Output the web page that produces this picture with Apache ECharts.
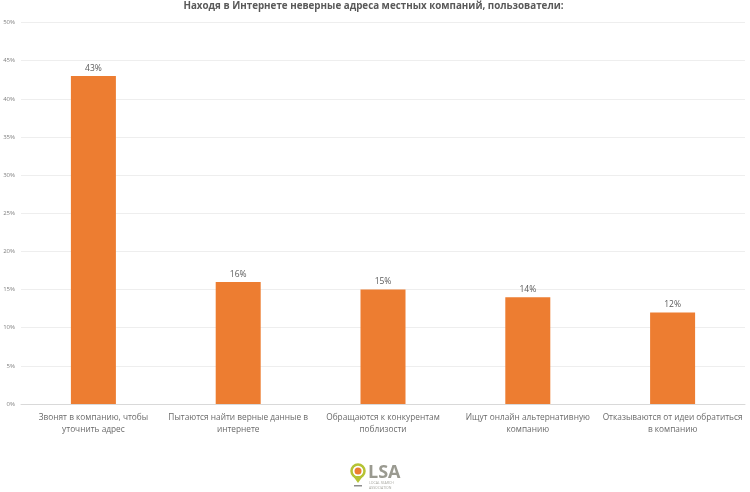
<!DOCTYPE html>
<html><head><meta charset="utf-8">
<style>html,body{margin:0;padding:0;background:#fff}#c{width:750px;height:492px}</style>
<script src="https://cdn.jsdelivr.net/npm/echarts@6/dist/echarts.min.js"></script>
</head><body><div id="c"></div>
<script>
const titleText = 'Находя в Интернете неверные адреса местных компаний, пользователи:';
const categories = ['Звонят в компанию, чтобы\nуточнить адрес','Пытаются найти верные данные в\nинтернете','Обращаются к конкурентам\nпоблизости','Ищут онлайн альтернативную\nкомпанию','Отказываются от идеи обратиться\nв компанию'];
const values = [43,16,15,14,12];
const font = '"Open Sans","Noto Sans",sans-serif';
const chart = echarts.init(document.getElementById('c'),null,{renderer:'canvas'});
chart.setOption({
  animation:false,
  backgroundColor:'#fff',
  title:{text:titleText,left:373.5,textAlign:'center',top:1,padding:0,textStyle:{fontFamily:font,fontSize:9.8,fontWeight:'bold',color:'#595959'}},
  grid:{left:21,right:5,top:22.5,bottom:88},
  xAxis:{type:'category',data:categories,axisTick:{show:false},
    axisLine:{lineStyle:{color:'#d9d9d9',width:1}},
    axisLabel:{interval:0,fontFamily:font,fontSize:8.3,color:'#6a6a6a',lineHeight:12,margin:8}},
  yAxis:{type:'value',min:0,max:50,interval:5,
    axisLabel:{formatter:'{value}%',fontFamily:font,fontSize:6,color:'#7f7f7f',margin:6},
    axisLine:{show:false},axisTick:{show:false},
    splitLine:{lineStyle:{color:'#eeeeee',width:1}}},
  series:[{type:'bar',data:values,barWidth:45,itemStyle:{color:'#ed7d31'},
    label:{show:true,position:'top',formatter:'{c}%',fontFamily:font,fontSize:8.5,color:'#595959',distance:3}}],
  graphic:[
    {type:'circle',shape:{cx:358,cy:471,r:6.5},style:{fill:'#fff',stroke:'#b5c334',lineWidth:2.5}},
    {type:'circle',shape:{cx:358,cy:471,r:3.5},style:{fill:'#ed7d31'}},
    {type:'polygon',shape:{points:[[353,476],[363,476],[358,483]]},style:{fill:'#b5c334'}},
    {type:'rect',shape:{x:354,y:485,width:8,height:1.5},style:{fill:'#8c8c8c'}},
    {type:'text',style:{x:368,y:464,text:'LSA',fontFamily:font,fontSize:18,fontWeight:'bold',fill:'#9a9a90'}},
    {type:'text',style:{x:369,y:481,text:'LOCAL SEARCH',fontFamily:font,fontSize:3.5,fill:'#a8a8a0'}},
    {type:'text',style:{x:369,y:486,text:'ASSOCIATION',fontFamily:font,fontSize:3.5,fill:'#a8a8a0'}}
  ]
});
</script></body></html>
